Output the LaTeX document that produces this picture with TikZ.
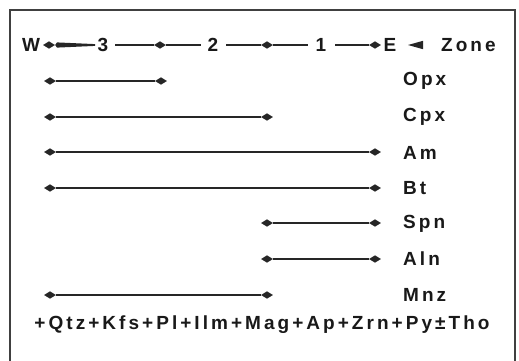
\documentclass[tikz,border=0pt]{standalone}
\usepackage{fontspec}
\newfontfamily\lblfont{Liberation Sans Bold}[LetterSpace=16]
\usetikzlibrary{shapes.geometric}
\tikzset{
  lbl/.style={font=\lblfont\fontsize{19}{21}\selectfont, inner sep=0pt, text=black!90},
  dia/.style={shape=diamond, fill=black!85, draw=none, inner sep=0pt, minimum width=12pt, minimum height=7.5pt},
  bar/.style={line width=2.1pt, draw=black!85},
  frame/.style={line width=1.4pt, draw=black!75}
}
\begin{document}
\begin{tikzpicture}[x=1pt,y=-1pt]
\useasboundingbox (0,0) rectangle (519,360);
\fill[white] (0,0) rectangle (519,360);
\draw[frame] (10,370) -- (10,10) -- (515,10) -- (515,370);
% header
\node[lbl] (W) at (31,45) {W};
\node[lbl] (n3) at (103,45) {3};
\node[lbl] (n2) at (213,45) {2};
\node[lbl] (n1) at (321,45) {1};
\node[lbl] (E) at (390,45) {E};
\node[lbl, anchor=west] (zone) at (441,45) {Zone};
\node[dia] (hw) at (49,45) {};
\node[dia] (h3) at (160,45) {};
\node[dia] (h2) at (267,45) {};
\node[dia] (h1) at (375,45) {};
\fill[black!85] (hw.east) -- (57,42.4) -- (95,44.1) -- (95,45.9) -- (57,47.6) -- cycle;
\draw[bar] ([xshift=7pt]n3.east) -- (h3) -- ([xshift=-7pt]n2.west);
\draw[bar] ([xshift=8pt]n2.east) -- (h2) -- ([xshift=-8pt]n1.west);
\draw[bar] ([xshift=9pt]n1.east) -- (h1);
\fill[black!85] (408,45) -- (423,40.8) -- (423,49.2) -- cycle;
% rows
\foreach \nm/\y/\a/\b in {opx/81/50/161, cpx/117/50/267, am/152/50/375, bt/188/50/375, spn/223/267/375, aln/259/267/375, mnz/295/50/267}{
  \node[dia] (\nm L) at (\a,\y) {};
  \node[dia] (\nm R) at (\b,\y) {};
  \draw[bar] (\nm L) -- (\nm R);
}
\node[lbl, anchor=west] (lopx) at (403,81) {Opx};
\node[lbl, anchor=west] (lcpx) at (403,117) {Cpx};
\node[lbl, anchor=west] (lam) at (403,153) {Am};
\node[lbl, anchor=west] (lbt) at (403,188) {Bt};
\node[lbl, anchor=west] (lspn) at (403,224) {Spn};
\node[lbl, anchor=west] (laln) at (403,259) {Aln};
\node[lbl, anchor=west] (lmnz) at (403,295) {Mnz};
\node[lbl] (bottom) at (262,325) {+Qtz+Kfs+Pl+Ilm+Mag+Ap+Zrn+Py±Tho};
\end{tikzpicture}
\end{document}
